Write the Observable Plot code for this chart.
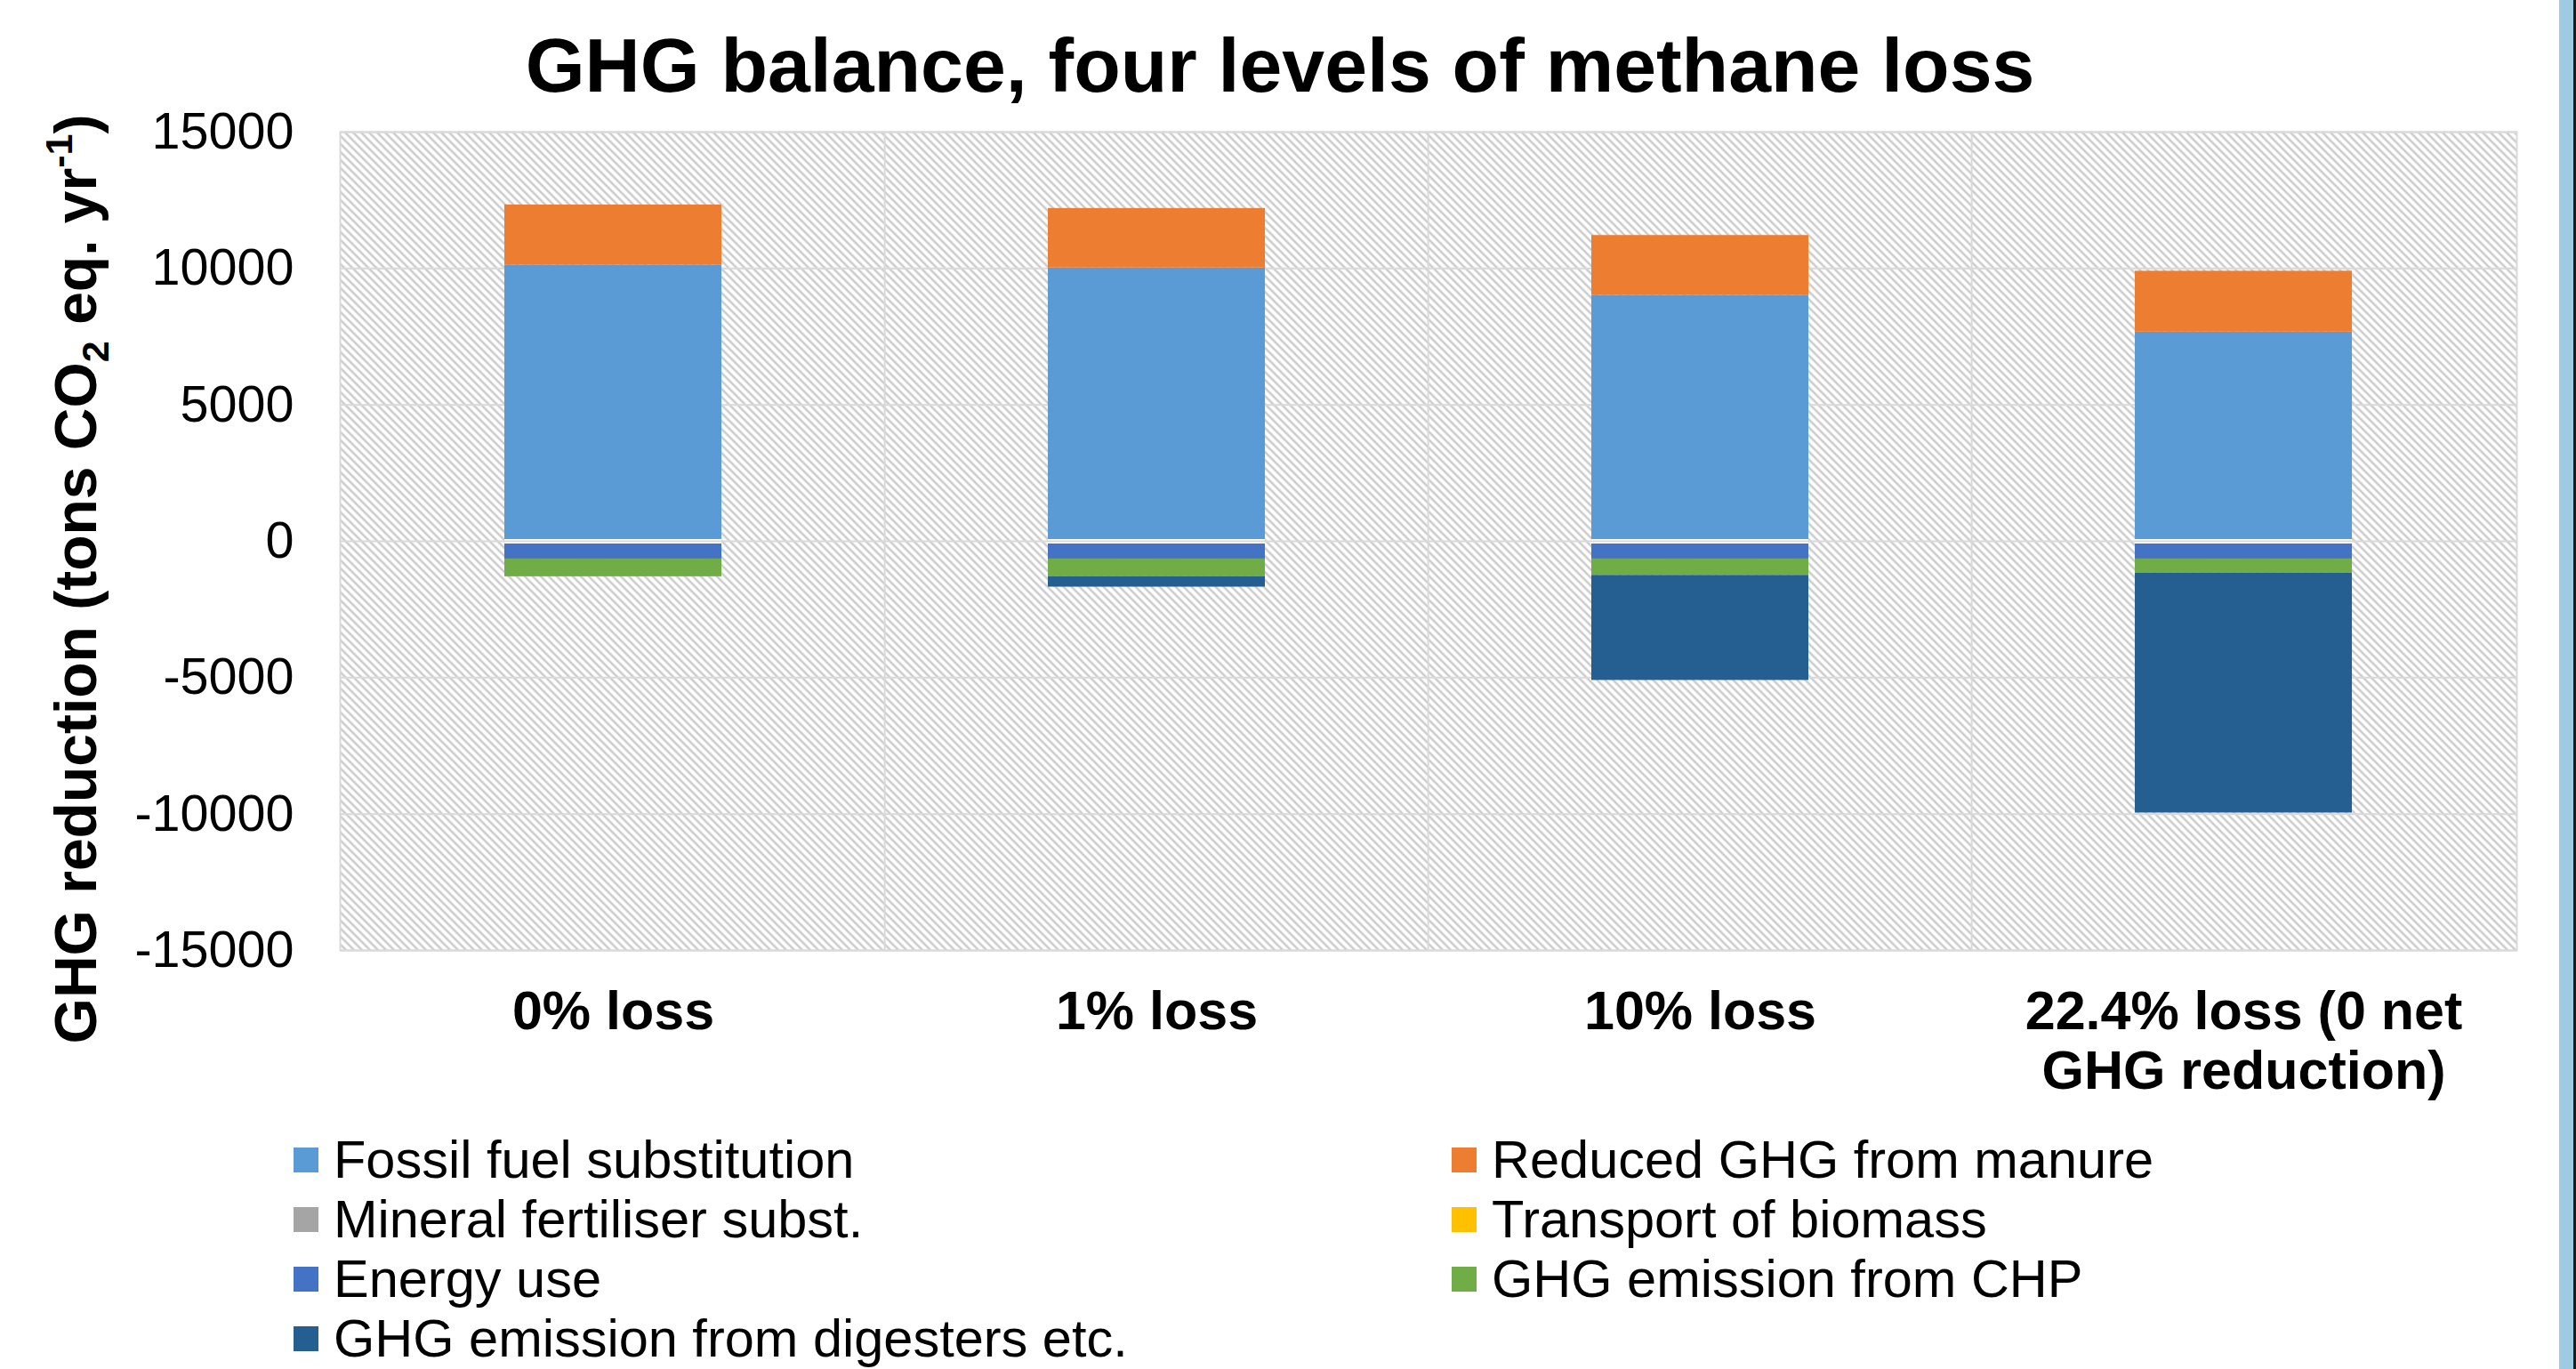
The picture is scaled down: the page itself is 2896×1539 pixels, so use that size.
<!DOCTYPE html>
<html>
<head>
<meta charset="utf-8">
<script src="https://cdn.jsdelivr.net/npm/d3@7"></script>
<script src="https://cdn.jsdelivr.net/npm/@observablehq/plot@0.6"></script>
<style>
html, body { margin: 0; padding: 0; background: #fff; }
#wrap { position: relative; width: 2896px; height: 1539px; overflow: hidden; font-family: "Liberation Sans", Arial, sans-serif; color: #000; }
#title { box-sizing: border-box; width: 2896px; height: 130px; padding-top: 31px; padding-right: 18px; line-height: 85px; font-size: 86px; font-weight: bold; text-align: center; white-space: nowrap; }
#chart svg { display: block; }
#legend { position: absolute; left: 330px; top: 1270px; display: grid; grid-template-columns: 1302px auto; grid-auto-rows: 67px; font-size: 59.5px; }
.item { display: flex; align-items: center; white-space: nowrap; }
.sw { width: 28px; height: 28px; margin-right: 17px; flex: none; }
#border { position: absolute; left: 2877px; top: 0; width: 16px; height: 1539px; background: #9ECAE2; border-right: 3px solid #1b1b1b; }
</style>
</head>
<body>
<div id="wrap">
  <div id="title">GHG balance, four levels of methane loss</div>
  <div id="chart"></div>
  <div id="legend"></div>
  <div id="border"></div>
</div>
<script>
// ---- data ----
const scenarios = ["0% loss", "1% loss", "10% loss", "22.4% loss (0 net\nGHG reduction)"];
const series = [
  "Fossil fuel substitution",
  "Reduced GHG from manure",
  "Mineral fertiliser subst.",
  "Transport of biomass",
  "Energy use",
  "GHG emission from CHP",
  "GHG emission from digesters etc."
];
const colors = ["#5B9BD5", "#ED7D31", "#A5A5A5", "#FFC000", "#4472C4", "#70AD47", "#255E91"];
const fossilFuel   = [10130, 10020, 9010, 7670];
const manure       = [2200, 2180, 2200, 2230];
const mineralFert  = [0, 0, 0, 0];
const transport    = [0, 0, 0, 0];
const energyUse    = [-650, -650, -650, -650];
const chp          = [-650, -650, -600, -520];
const digesters    = [0, -380, -3850, -8790];
const yTicks = [-15000, -10000, -5000, 0, 5000, 10000, 15000];

const values = [fossilFuel, manure, mineralFert, transport, energyUse, chp, digesters];
const data = scenarios.flatMap((s, i) => series.map((name, j) => ({scenario: s, series: name, value: values[j][i]})));

// ---- layout ----
const W = 2896, H = 1120, ML = 382, MR = 67, MT = 18, MB = 182;
const step = (W - ML - MR) / scenarios.length;
const grid = "#d9d9d9";

const plot = Plot.plot({
  width: W, height: H,
  marginLeft: ML, marginRight: MR, marginTop: MT, marginBottom: MB,
  style: {fontFamily: "'Liberation Sans', Arial, sans-serif", fontSize: "57px", color: "#000", background: "transparent", overflow: "visible"},
  x: {domain: scenarios, paddingInner: 0.6, paddingOuter: 0.3, label: null},
  y: {domain: [-15000, 15000], label: null},
  color: {domain: series, range: colors},
  marks: [
    Plot.frame({fill: "url(#hatch)"}),
    Plot.gridY(yTicks, {stroke: grid, strokeOpacity: 1, strokeWidth: 2}),
    Plot.ruleX(scenarios.slice(1), {x: d => d, dx: -step / 2, stroke: grid, strokeOpacity: 1, strokeWidth: 2}),
    Plot.barY(data, {x: "scenario", y: "value", fill: "series", order: series}),
    Plot.tickY(scenarios, {x: d => d, y: () => 0, stroke: "#fff", strokeWidth: 5}),
    Plot.tickY(scenarios, {x: d => d, y: () => 0, stroke: grid, strokeWidth: 2}),
    Plot.frame({stroke: grid, strokeWidth: 2}),
    Plot.axisY(yTicks, {tickSize: 0, tickPadding: 52, tickFormat: d => String(d), fontSize: 57.5, label: null}),
    Plot.axisX({tickSize: 0, tickPadding: 41, fontSize: 61, fontWeight: "bold", lineHeight: 1.1, label: null})
  ]
});

// hatch pattern for plot background
const svg = d3.select(plot);
const defs = svg.insert("defs", ":first-child");
const pat = defs.append("pattern").attr("id", "hatch").attr("patternUnits", "userSpaceOnUse").attr("width", 9).attr("height", 9);
pat.append("rect").attr("width", 9).attr("height", 9).attr("fill", "#fff");
pat.append("path").attr("d", "M0,0L9,9M-2,7L2,11M7,-2L11,2").attr("stroke", "#c9c9c9").attr("stroke-width", 2.4);

// y axis title with sub/superscripts
const yt = svg.append("text")
  .attr("transform", `translate(108,${651 - 130}) rotate(-90)`)
  .attr("text-anchor", "middle")
  .attr("font-size", 66)
  .attr("font-weight", "bold")
  .attr("fill", "#000");
yt.append("tspan").text("GHG reduction (tons CO");
yt.append("tspan").attr("font-size", 43).attr("dy", 14).text("2");
yt.append("tspan").attr("dy", -14).text(" eq. yr");
yt.append("tspan").attr("font-size", 43).attr("dy", -27).text("-1");
yt.append("tspan").attr("dy", 27).text(")");

document.getElementById("chart").appendChild(plot);

// legend
const lg = d3.select("#legend");
series.forEach((name, i) => {
  const it = lg.append("div").attr("class", "item");
  it.append("div").attr("class", "sw").style("background", colors[i]);
  it.append("span").text(name);
});
</script>
</body>
</html>
